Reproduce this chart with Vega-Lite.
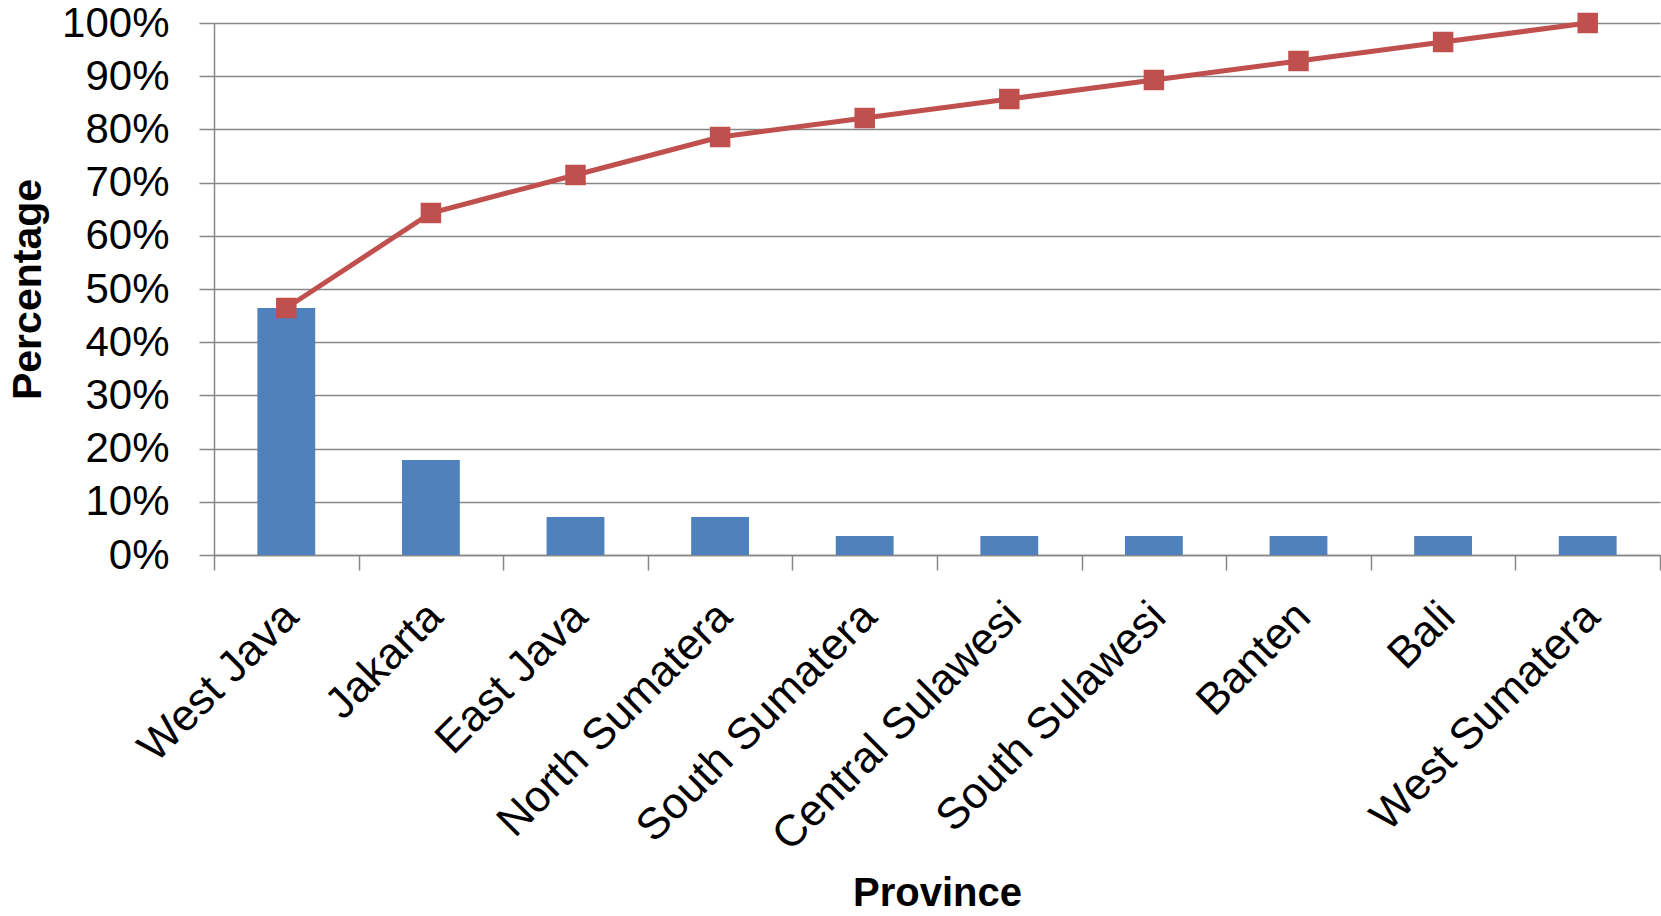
{
  "$schema": "https://vega.github.io/schema/vega-lite/v6.json",
  "width": 1446,
  "height": 532,
  "autosize": "none",
  "padding": {"left": 214, "top": 23, "right": 1, "bottom": 361},
  "background": "white",
  "config": {"view": {"stroke": null}, "font": "Liberation Sans"},
  "data": {
    "values": [
      {"province": "West Java", "pct": 0.4643, "cum": 0.4643},
      {"province": "Jakarta", "pct": 0.1786, "cum": 0.6429},
      {"province": "East Java", "pct": 0.0714, "cum": 0.7143},
      {"province": "North Sumatera", "pct": 0.0714, "cum": 0.7857},
      {"province": "South Sumatera", "pct": 0.0357, "cum": 0.8214},
      {"province": "Central Sulawesi", "pct": 0.0357, "cum": 0.8571},
      {"province": "South Sulawesi", "pct": 0.0357, "cum": 0.8929},
      {"province": "Banten", "pct": 0.0357, "cum": 0.9286},
      {"province": "Bali", "pct": 0.0357, "cum": 0.9643},
      {"province": "West Sumatera", "pct": 0.0357, "cum": 1.0}
    ]
  },
  "encoding": {
    "x": {
      "field": "province",
      "type": "nominal",
      "sort": null,
      "scale": {"paddingInner": 0, "paddingOuter": 0},
      "axis": {
        "title": "Province",
        "labelAngle": -45,
        "labelFontSize": 44,
        "labelPadding": 24,
        "labelOffset": -11,
        "labelColor": "black",
        "labelLimit": 0,
        "labelOverlap": false,
        "tickBand": "extent",
        "tickSize": 15,
        "tickColor": "#878787",
        "tickWidth": 1.5,
        "domainColor": "#878787",
        "domainWidth": 1.5,
        "grid": false,
        "titleFontSize": 40,
        "titleFontWeight": "bold",
        "titleColor": "black",
        "titleY": 338,
        "titleBaseline": "middle"
      }
    }
  },
  "layer": [
    {
      "mark": {"type": "bar", "width": {"band": 0.4}, "color": "#4F81BD"},
      "encoding": {
        "y": {
          "field": "pct",
          "type": "quantitative",
          "scale": {"domain": [0, 1]},
          "axis": {
            "title": "Percentage",
            "values": [0, 0.1, 0.2, 0.3, 0.4, 0.5, 0.6, 0.7, 0.8, 0.9, 1],
            "format": ".0%",
            "labelFontSize": 42,
            "labelColor": "black",
            "labelPadding": 30,
            "labelFlush": false,
            "labelOverlap": false,
            "tickSize": 15,
            "tickColor": "#878787",
            "tickWidth": 1.5,
            "domainColor": "#878787",
            "domainWidth": 1.5,
            "gridColor": "#878787",
            "gridWidth": 1.5,
            "titleFontSize": 41,
            "titleFontWeight": "bold",
            "titleColor": "black",
            "titleX": -186,
            "titleY": 266,
            "titleBaseline": "middle"
          }
        }
      }
    },
    {
      "mark": {
        "type": "line",
        "color": "#C0504D",
        "strokeWidth": 5,
        "point": {"shape": "square", "size": 420, "filled": true, "color": "#C0504D", "opacity": 1}
      },
      "encoding": {
        "y": {
          "field": "cum",
          "type": "quantitative",
          "axis": {
            "title": "Percentage",
            "values": [0, 0.1, 0.2, 0.3, 0.4, 0.5, 0.6, 0.7, 0.8, 0.9, 1],
            "format": ".0%",
            "labelFontSize": 42,
            "labelColor": "black",
            "labelPadding": 30,
            "labelFlush": false,
            "labelOverlap": false,
            "tickSize": 15,
            "tickColor": "#878787",
            "tickWidth": 1.5,
            "domainColor": "#878787",
            "domainWidth": 1.5,
            "gridColor": "#878787",
            "gridWidth": 1.5,
            "titleFontSize": 41,
            "titleFontWeight": "bold",
            "titleColor": "black",
            "titleX": -186,
            "titleY": 266,
            "titleBaseline": "middle"
          }
        }
      }
    }
  ]
}
